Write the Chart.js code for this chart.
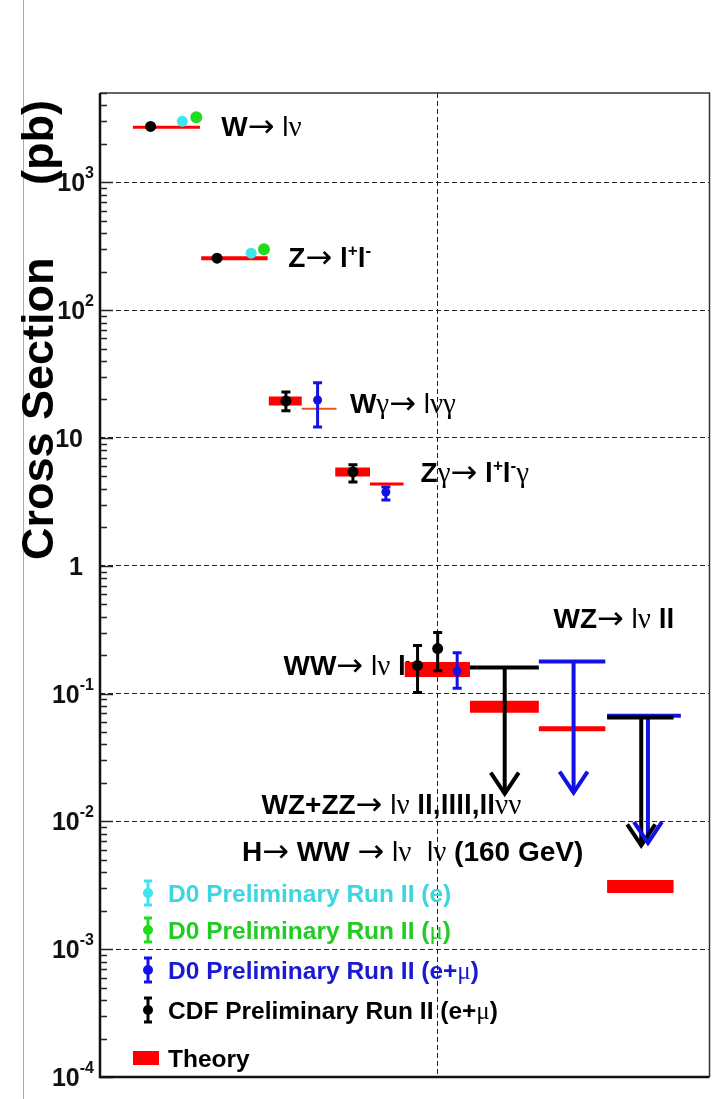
<!DOCTYPE html>
<html>
<head>
<meta charset="utf-8">
<script src="https://cdn.jsdelivr.net/npm/chart.js@4/dist/chart.umd.min.js"></script>
<style>
html,body{margin:0;padding:0;background:#fff;}
#wrap{position:relative;width:717px;height:1099px;}
canvas{display:block;}
</style>
</head>
<body>
<div id="wrap"><canvas id="c" width="717" height="1099"></canvas></div>
<script>
// ================= DATA =================
// y axis (log) tick values and labels [base, exponent]
const yTickValues = [1e-4, 1e-3, 1e-2, 1e-1, 1, 10, 100, 1000];
const yTickLabels = [['10','-4'],['10','-3'],['10','-2'],['10','-1'],['1',''],['10',''],['10','2'],['10','3']];
const yAxisTitle = 'Cross Section';
const yAxisUnit = '(pb)';
const xGridAt = [55.4];

// Theory predictions (x span in arbitrary units, value in pb)
const theoryName  = ['W','Z','Wγ (CDF)','Wγ (D0)','Zγ (CDF)','Zγ (D0)','WW','WZ+ZZ','WZ','H→WW'];
const theoryXFrom = [5.4, 16.6, 27.7, 33.1, 38.6, 44.3, 50.0, 60.7, 72.0, 83.2];
const theoryXTo   = [16.4, 27.5, 33.1, 38.8, 44.3, 49.8, 60.7, 72.0, 82.9, 94.1];
const theoryValue = [2700, 255, 19.5, 16.9, 5.42, 4.36, 0.154, 0.079, 0.053, 0.0031];

// CDF Preliminary Run II (e+mu)
const cdfX   = [8.3, 19.2, 30.5, 41.5, 52.1, 55.4];
const cdfY   = [2740, 255, 19.5, 5.42, 0.166, 0.225];
const cdfLo  = [null, null, 16.3, 4.53, 0.102, 0.151];
const cdfHi  = [null, null, 22.9, 6.16, 0.238, 0.300];
// D0 Preliminary Run II (e)
const d0eX   = [13.5, 24.8];
const d0eY   = [3000, 279];
// D0 Preliminary Run II (mu)
const d0muX  = [15.8, 26.9];
const d0muY  = [3230, 300];
// D0 Preliminary Run II (e+mu)
const d0emuX  = [35.7, 46.9, 58.6];
const d0emuY  = [19.8, 3.78, 0.150];
const d0emuLo = [12.2, 3.27, 0.110];
const d0emuHi = [27.0, 4.14, 0.209];

// Upper limits (95% CL)
const limitExp     = ['CDF', 'D0', 'CDF', 'D0'];
const limitXFrom   = [60.7, 72.0, 83.2, 83.2];
const limitXTo     = [72.0, 82.9, 94.1, 95.3];
const limitXArrow  = [66.4, 77.7, 88.8, 89.9];
const limitValue   = [0.160, 0.178, 0.065, 0.067];
const limitArrowTo = [0.0165, 0.0168, 0.0065, 0.0068];

// Process labels (anchor = left edge / vertical centre, in data units)
const processLabels = [
  {x:19.9, y:2740,   parts:[['W','b'],['→','a'],[' l','r'],['ν','g']]},
  {x:30.9, y:260,    parts:[['Z','b'],['→','a'],[' l','b'],['+','s'],['l','b'],['-','s']]},
  {x:41.0, y:18.8,   parts:[['W','b'],['γ','g'],['→','a'],[' l','r'],['ν','g'],['γ','g']]},
  {x:52.6, y:5.42,   parts:[['Z','b'],['γ','g'],['→','a'],[' l','b'],['+','s'],['l','b'],['-','s'],['γ','g']]},
  {x:30.1, y:0.166,  parts:[['WW','b'],['→','a'],[' l','r'],['ν','g'],[' l','b'],['ν','g']]},
  {x:74.4, y:0.393,  parts:[['WZ','b'],['→','a'],[' l','r'],['ν','g'],[' ll','b']]},
  {x:26.5, y:0.0136, parts:[['WZ+ZZ','b'],['→','a'],[' l','r'],['ν','g'],[' ll,llll,ll','b'],['νν','g']]},
  {x:23.3, y:0.00582,parts:[['H','b'],['→','a'],[' WW ','b'],['→','a'],[' l','r'],['ν','g'],['  l','r'],['ν','g'],[' (160 GeV)','b']]}
];

// Legend entries
const legendItems = [
  {key:'d0e',   parts:[['D0 Preliminary Run II (e)','L']]},
  {key:'d0mu',  parts:[['D0 Preliminary Run II (','L'],['μ','G'],[')','L']]},
  {key:'d0emu', parts:[['D0 Preliminary Run II (e+','L'],['μ','G'],[')','L']]},
  {key:'cdf',   parts:[['CDF Preliminary Run II (e+','L'],['μ','G'],[')','L']]},
  {key:'theory',parts:[['Theory','L']]}
];

// ================= STYLE =================
const COL = {cdf:'#000000', d0e:'#3ee4ee', d0mu:'#1edc1e', d0emu:'#1212e6', theory:'#ff0000'};
const TXT = {cdf:'#000000', d0e:'#3cd6e0', d0mu:'#22cc22', d0emu:'#1a1ad2', theory:'#000000'};
const theoryWidth = [3, 4, 9, 2, 9, 3, 15, 12, 5, 13];
const theoryColor = ['#ff0000','#ff0000','#ff0000','#f05020','#ff0000','#ff0000','#ff0000','#ff0000','#ff0000','#ff0000'];
const SANS = '"Liberation Sans", Arial, Helvetica, sans-serif';
const SERIF = '"Liberation Serif", "DejaVu Serif", serif';
const FONTS = {
  b: {font:'bold 28px ' + SANS, dy:0},
  r: {font:'28px ' + SANS, dy:0},
  a: {font:'32px "DejaVu Sans", sans-serif', dy:1},
  g: {font:'29px ' + SERIF, dy:0},
  s: {font:'bold 17px ' + SANS, dy:-11},
  L: {font:'bold 24.5px ' + SANS, dy:0},
  G: {font:'25px ' + SERIF, dy:0}
};

// ================= HELPERS =================
const isDecade = v => Math.abs(Math.log10(v) - Math.round(Math.log10(v))) < 1e-6;

function drawRich(ctx, x, yBase, parts) {
  let cx = x;
  parts.forEach(([t, f]) => {
    const F = FONTS[f];
    ctx.font = F.font;
    ctx.fillText(t, cx, yBase + F.dy);
    cx += ctx.measureText(t).width;
  });
}

// ================= DATASETS =================
const datasets = [];
function pts(xs, ys) { return xs.map((x, i) => ({x, y: ys[i]})); }

// points
datasets.push({type:'scatter', label:'CDF', data:pts(cdfX, cdfY), backgroundColor:COL.cdf, borderWidth:0, pointRadius:5.5, order:0});
datasets.push({type:'scatter', label:'D0 e', data:pts(d0eX, d0eY), backgroundColor:COL.d0e, borderWidth:0, pointRadius:5.5, order:0});
datasets.push({type:'scatter', label:'D0 mu', data:pts(d0muX, d0muY), backgroundColor:COL.d0mu, borderWidth:0, pointRadius:6, order:0});
datasets.push({type:'scatter', label:'D0 e+mu', data:pts(d0emuX, d0emuY), backgroundColor:COL.d0emu, borderWidth:0, pointRadius:4.5, order:0});

// error bars
function addErr(xs, lo, hi, color, w) {
  xs.forEach((x, i) => {
    if (lo[i] == null) return;
    datasets.push({type:'line', showLine:true, data:[{x, y:lo[i]}, {x, y:hi[i]}],
      borderColor:color, borderWidth:w, pointStyle:'line', pointRadius:4.5,
      pointBorderColor:color, pointBorderWidth:w, pointBackgroundColor:color, order:1});
  });
}
addErr(cdfX, cdfLo, cdfHi, COL.cdf, 3);
addErr(d0emuX, d0emuLo, d0emuHi, COL.d0emu, 3);

// limits
limitExp.forEach((e, i) => {
  const c = e === 'CDF' ? COL.cdf : COL.d0emu;
  const ord = e === 'CDF' ? 2 : 2.5;
  datasets.push({type:'line', showLine:true, data:[{x:limitXFrom[i], y:limitValue[i]}, {x:limitXTo[i], y:limitValue[i]}],
    borderColor:c, borderWidth:4, borderCapStyle:'butt', pointRadius:0, order:ord});
  datasets.push({type:'line', showLine:true, data:[{x:limitXArrow[i], y:limitValue[i]}, {x:limitXArrow[i], y:limitArrowTo[i]}],
    borderColor:c, borderWidth:4, borderCapStyle:'butt', pointRadius:0, order:ord});
});

// theory
theoryName.forEach((n, i) => {
  datasets.push({type:'line', showLine:true, label:'Theory ' + n,
    data:[{x:theoryXFrom[i], y:theoryValue[i]}, {x:theoryXTo[i], y:theoryValue[i]}],
    borderColor:theoryColor[i], borderWidth:theoryWidth[i], borderCapStyle:'butt', pointRadius:0, order:3});
});

// ================= PLUGIN =================
const decor = {
  id:'decor',
  beforeDatasetsDraw(chart) {
    const {ctx, scales:{x, y}} = chart;
    ctx.save();
    ctx.fillStyle = '#000';
    ctx.textBaseline = 'alphabetic';
    processLabels.forEach(l => drawRich(ctx, x.getPixelForValue(l.x), y.getPixelForValue(l.y) + 10, l.parts));
    ctx.restore();
  },
  afterDatasetsDraw(chart) {
    const {ctx, chartArea:a, scales:{x, y}} = chart;
    ctx.save();
    // arrow heads
    limitExp.forEach((e, i) => {
      const xp = x.getPixelForValue(limitXArrow[i]);
      const yp = y.getPixelForValue(limitArrowTo[i]);
      ctx.strokeStyle = e === 'CDF' ? COL.cdf : COL.d0emu;
      ctx.lineWidth = 4;
      ctx.lineJoin = 'miter';
      ctx.beginPath();
      ctx.moveTo(xp - 14, yp - 21);
      ctx.lineTo(xp, yp);
      ctx.lineTo(xp + 14, yp - 21);
      ctx.stroke();
    });
    // inner ticks on the y axis
    ctx.strokeStyle = '#222';
    ctx.lineWidth = 1.5;
    for (let e = -4; e <= 3; e++) {
      for (let d = 1; d <= 9; d++) {
        const v = d * Math.pow(10, e);
        if (v < y.min * 0.999 || v > y.max) continue;
        const yp = Math.round(y.getPixelForValue(v)) + 0.5;
        const len = d === 1 ? 13 : 7;
        ctx.beginPath();
        ctx.moveTo(a.left, yp);
        ctx.lineTo(a.left + len, yp);
        ctx.stroke();
      }
    }
    // frame
    ctx.strokeStyle = '#333';
    ctx.lineWidth = 1.5;
    ctx.beginPath();
    ctx.moveTo(a.left, a.top); ctx.lineTo(a.right, a.top); ctx.lineTo(a.right, a.bottom);
    ctx.stroke();
    ctx.strokeStyle = '#111';
    ctx.lineWidth = 2.5;
    ctx.beginPath();
    ctx.moveTo(a.left, a.top); ctx.lineTo(a.left, a.bottom); ctx.lineTo(a.right, a.bottom);
    ctx.stroke();
    ctx.restore();
  },
  afterDraw(chart) {
    const {ctx, chartArea:a, scales:{y}} = chart;
    ctx.save();
    // page edge line
    ctx.strokeStyle = '#a8a8a8';
    ctx.lineWidth = 1;
    ctx.beginPath(); ctx.moveTo(23.5, 0); ctx.lineTo(23.5, chart.height); ctx.stroke();

    // y tick labels
    ctx.fillStyle = '#111';
    ctx.textBaseline = 'alphabetic';
    yTickValues.forEach((v, i) => {
      const [base, ex] = yTickLabels[i];
      const yp = y.getPixelForValue(v);
      ctx.font = 'bold 25px ' + SANS;
      const bw = ctx.measureText(base).width;
      if (ex) {
        ctx.font = 'bold 16px ' + SANS;
        const ew = ctx.measureText(ex).width;
        const ex0 = a.left - 6 - ew;
        ctx.fillText(ex, ex0, yp - 4);
        ctx.font = 'bold 25px ' + SANS;
        ctx.fillText(base, ex0 - bw, yp + 9);
      } else {
        ctx.fillText(base, a.left - 17 - bw, yp + 9);
      }
    });

    // y axis title
    ctx.save();
    ctx.translate(53, 560);
    ctx.rotate(-Math.PI / 2);
    ctx.font = 'bold 45px ' + SANS;
    ctx.fillStyle = '#000';
    ctx.fillText(yAxisTitle, 0, 0);
    ctx.fillText(yAxisUnit, 375, 0);
    ctx.restore();

    // legend
    const rowY = [893, 930, 970, 1010, 1058];
    const mx = a.left + 48;
    legendItems.forEach((it, i) => {
      const cy = rowY[i];
      const c = COL[it.key];
      if (it.key === 'theory') {
        ctx.fillStyle = c;
        ctx.fillRect(a.left + 33, cy - 7, 26, 14);
      } else {
        ctx.strokeStyle = c; ctx.fillStyle = c; ctx.lineWidth = 3;
        ctx.beginPath(); ctx.moveTo(mx, cy - 12); ctx.lineTo(mx, cy + 12); ctx.stroke();
        ctx.beginPath(); ctx.moveTo(mx - 4, cy - 12); ctx.lineTo(mx + 4, cy - 12);
        ctx.moveTo(mx - 4, cy + 12); ctx.lineTo(mx + 4, cy + 12); ctx.stroke();
        ctx.beginPath(); ctx.arc(mx, cy, 5, 0, Math.PI * 2); ctx.fill();
      }
      ctx.fillStyle = TXT[it.key];
      drawRich(ctx, a.left + 68, cy + 9, it.parts);
    });
    ctx.restore();
  }
};

// ================= CHART =================
new Chart(document.getElementById('c'), {
  type:'scatter',
  data:{datasets},
  options:{
    responsive:false,
    animation:false,
    events:[],
    layout:{padding:{left:100, top:93, right:3, bottom:22}},
    plugins:{legend:{display:false}, tooltip:{enabled:false}},
    scales:{
      x:{type:'linear', min:0, max:100,
         ticks:{display:false},
         afterBuildTicks: s => { s.ticks = xGridAt.map(v => ({value:v})); },
         grid:{drawTicks:false, color:'#222', lineWidth:1},
         border:{display:false, dash:[5,3]}},
      y:{type:'logarithmic', min:1e-4, max:5000,
         ticks:{display:false},
         grid:{drawTicks:false, lineWidth:1,
               color: c => (c.tick && isDecade(c.tick.value) && c.tick.value < 4000 && c.tick.value > 2e-4) ? '#222' : 'rgba(0,0,0,0)'},
         border:{display:false, dash:[5,3]}}
    }
  },
  plugins:[decor]
});
</script>
</body>
</html>
